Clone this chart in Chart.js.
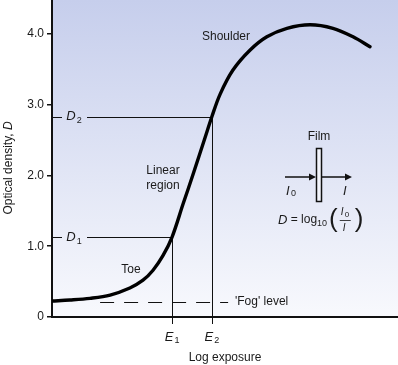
<!DOCTYPE html>
<html>
<head>
<meta charset="utf-8">
<script src="https://cdn.jsdelivr.net/npm/chart.js@4.4.1/dist/chart.umd.min.js"></script>
<style>
html,body{margin:0;padding:0;background:#fff;}
#wrap{width:398px;height:365px;position:relative;}
</style>
</head>
<body>
<div id="wrap"><canvas id="c" width="398" height="365"></canvas></div>
<script>
// Characteristic (H&D) curve data
const logExposure = [0, 0.52, 1.10, 1.68, 2.25, 2.63, 2.92, 3.21, 3.47, 3.79, 4.08, 4.42, 4.62, 4.86, 5.23, 5.72, 6.21, 6.79, 7.46, 8.12, 8.70, 9.19];
const density     = [0.226, 0.24, 0.264, 0.31, 0.41, 0.52, 0.66, 0.87, 1.13, 1.60, 2.02, 2.53, 2.83, 3.15, 3.49, 3.77, 3.96, 4.08, 4.13, 4.08, 3.96, 3.82];
const yTicks = [0, 1, 2, 3, 4];
const yTickLabels = ['0', '1.0', '2.0', '3.0', '4.0'];
const E1 = 3.47, E2 = 4.62;
const D1 = 1.13, D2 = 2.83;
const fogLevel = 0.21;
const fogStart = 1.39, fogEnd = 5.09;

const FONT = '"Liberation Sans", Arial, sans-serif';

function txt(ctx, s, x, y, opts) {
  opts = opts || {};
  ctx.font = (opts.italic ? 'italic ' : '') + (opts.size || 12) + 'px ' + FONT;
  ctx.textAlign = opts.align || 'left';
  ctx.textBaseline = 'middle';
  ctx.fillStyle = '#1a1a1a';
  ctx.fillText(s, x, y);
  return ctx.measureText(s).width;
}
// italic letter with subscript, centered at x
function subLabel(ctx, main, sub, cx, y) {
  ctx.font = 'italic 13px ' + FONT;
  const w1 = ctx.measureText(main).width;
  ctx.font = '9px ' + FONT;
  const w2 = ctx.measureText(sub).width;
  const x0 = cx - (w1 + w2 + 1) / 2;
  txt(ctx, main, x0, y, {italic: true, size: 13});
  txt(ctx, sub, x0 + w1 + 1, y + 4, {size: 9});
}

const plugin = {
  id: 'deco',
  beforeDraw(chart) {
    const {ctx, chartArea: a} = chart;
    const g = ctx.createLinearGradient(0, a.top, 0, a.bottom);
    g.addColorStop(0, 'rgb(198,206,236)');
    g.addColorStop(1, 'rgb(248,249,253)');
    ctx.save();
    ctx.fillStyle = g;
    ctx.fillRect(a.left, a.top, a.right - a.left, a.bottom - a.top);
    ctx.restore();
  },
  beforeDatasetsDraw(chart) {
    const {ctx, chartArea: a, scales: {x, y}} = chart;
    ctx.save();
    ctx.strokeStyle = '#111';
    ctx.lineWidth = 1;
    const yD2 = Math.round(y.getPixelForValue(D2)) + 0.5;
    const yD1 = Math.round(y.getPixelForValue(D1)) + 0.5;
    const xE1 = Math.round(x.getPixelForValue(E1)) + 0.5;
    const xE2 = Math.round(x.getPixelForValue(E2)) + 0.5;
    ctx.beginPath();
    ctx.moveTo(a.left, yD2); ctx.lineTo(a.left + 10, yD2);
    ctx.moveTo(a.left + 35, yD2); ctx.lineTo(xE2, yD2);
    ctx.moveTo(a.left, yD1); ctx.lineTo(a.left + 10, yD1);
    ctx.moveTo(a.left + 35, yD1); ctx.lineTo(xE1, yD1);
    ctx.moveTo(xE1, yD1); ctx.lineTo(xE1, a.bottom + 7);
    ctx.moveTo(xE2, yD2); ctx.lineTo(xE2, a.bottom + 7);
    ctx.stroke();
    // fog level dashed
    const yF = Math.round(y.getPixelForValue(fogLevel)) + 0.5;
    ctx.setLineDash([14, 10]);
    ctx.beginPath();
    ctx.moveTo(x.getPixelForValue(fogStart), yF);
    ctx.lineTo(x.getPixelForValue(fogEnd), yF);
    ctx.stroke();
    ctx.setLineDash([]);
    // x axis line
    ctx.lineWidth = 2;
    ctx.beginPath();
    ctx.moveTo(a.left - 1, a.bottom); ctx.lineTo(a.right, a.bottom);
    ctx.stroke();
    ctx.restore();
  },
  afterDraw(chart) {
    const {ctx, chartArea: a, scales: {x, y}} = chart;
    ctx.save();
    const yD2 = y.getPixelForValue(D2);
    const yD1 = y.getPixelForValue(D1);
    subLabel(ctx, 'D', '2', a.left + 22, yD2);
    subLabel(ctx, 'D', '1', a.left + 22, yD1);
    subLabel(ctx, 'E', '1', x.getPixelForValue(E1), a.bottom + 20);
    subLabel(ctx, 'E', '2', x.getPixelForValue(E2), a.bottom + 20);
    txt(ctx, 'Log exposure', 225, 358, {align: 'center'});
    txt(ctx, 'Shoulder', 226, 37, {align: 'center'});
    txt(ctx, 'Linear', 163, 171, {align: 'center'});
    txt(ctx, 'region', 163, 186, {align: 'center'});
    txt(ctx, 'Toe', 131, 270, {align: 'center'});
    txt(ctx, "'Fog' level", 235, y.getPixelForValue(fogLevel), {});
    // y axis title
    ctx.save();
    ctx.translate(9, 168);
    ctx.rotate(-Math.PI / 2);
    ctx.font = '12px ' + FONT;
    const t1 = 'Optical density, ';
    const w1 = ctx.measureText(t1).width;
    ctx.font = 'italic 12px ' + FONT;
    const w2 = ctx.measureText('D').width;
    const x0 = -(w1 + w2) / 2;
    txt(ctx, t1, x0, 0, {});
    txt(ctx, 'D', x0 + w1, 0, {italic: true});
    ctx.restore();
    // Film diagram
    txt(ctx, 'Film', 319, 137, {align: 'center'});
    ctx.strokeStyle = '#111';
    ctx.fillStyle = '#f2f4fb';
    ctx.lineWidth = 1.5;
    ctx.fillRect(316.5, 148.5, 5, 53);
    ctx.strokeRect(316.5, 148.5, 5, 53);
    ctx.beginPath();
    ctx.moveTo(285, 177); ctx.lineTo(312, 177);
    ctx.moveTo(322, 177); ctx.lineTo(347, 177);
    ctx.stroke();
    ctx.fillStyle = '#111';
    ctx.beginPath();
    ctx.moveTo(316, 177); ctx.lineTo(309, 173.5); ctx.lineTo(309, 180.5); ctx.closePath();
    ctx.moveTo(352, 177); ctx.lineTo(345, 173.5); ctx.lineTo(345, 180.5); ctx.closePath();
    ctx.fill();
    txt(ctx, 'I', 286, 191, {italic: true, size: 13});
    txt(ctx, '0', 291, 194, {size: 9});
    txt(ctx, 'I', 343, 191, {italic: true, size: 13});
    // formula D = log10 ( I0 / I )
    let cx = 278;
    cx += txt(ctx, 'D', cx, 220, {italic: true, size: 13});
    cx += txt(ctx, ' = log', cx, 220, {size: 12});
    cx += txt(ctx, '10', cx, 224, {size: 9});
    cx += 2;
    ctx.save();
    ctx.font = '26px ' + FONT;
    ctx.textBaseline = 'middle';
    ctx.textAlign = 'left';
    ctx.fillStyle = '#1a1a1a';
    ctx.fillText('(', cx, 220);
    const pw = ctx.measureText('(').width;
    ctx.restore();
    cx += pw + 2;
    txt(ctx, 'I', cx + 1, 212, {italic: true, size: 10});
    txt(ctx, '0', cx + 5, 215, {size: 8});
    txt(ctx, 'I', cx + 3, 228, {italic: true, size: 10});
    ctx.lineWidth = 0.8;
    ctx.beginPath();
    ctx.moveTo(cx, 220.5); ctx.lineTo(cx + 11, 220.5);
    ctx.stroke();
    cx += 15;
    ctx.font = '26px ' + FONT;
    ctx.textBaseline = 'middle';
    ctx.textAlign = 'left';
    ctx.fillStyle = '#1a1a1a';
    ctx.fillText(')', cx, 220);
    ctx.restore();
  }
};

new Chart(document.getElementById('c'), {
  type: 'line',
  data: {
    datasets: [{
      data: logExposure.map((v, i) => ({x: v, y: density[i]})),
      borderColor: '#000',
      borderWidth: 3.4,
      pointRadius: 0,
      fill: false,
      tension: 0.35,
      borderCapStyle: 'round',
      borderJoinStyle: 'round'
    }]
  },
  options: {
    responsive: false,
    animation: false,
    devicePixelRatio: 1,
    layout: {padding: {left: 0, right: 0, top: 0, bottom: 48}},
    plugins: {legend: {display: false}, tooltip: {enabled: false}},
    scales: {
      x: {type: 'linear', min: 0, max: 10, display: false},
      y: {
        min: 0, max: 4.48,
        afterFit(s) { s.width = 52; s.paddingTop = 0; s.paddingBottom = 0; },
        afterBuildTicks(s) { s.ticks = yTicks.map(v => ({value: v})); },
        ticks: {
          callback: (v) => yTickLabels[yTicks.indexOf(v)],
          font: {family: FONT, size: 12},
          color: '#1a1a1a',
          padding: 3
        },
        grid: {drawOnChartArea: false, tickLength: 5, color: '#111', lineWidth: 1.5},
        border: {color: '#111', width: 2}
      }
    }
  },
  plugins: [plugin]
});
</script>
</body>
</html>
